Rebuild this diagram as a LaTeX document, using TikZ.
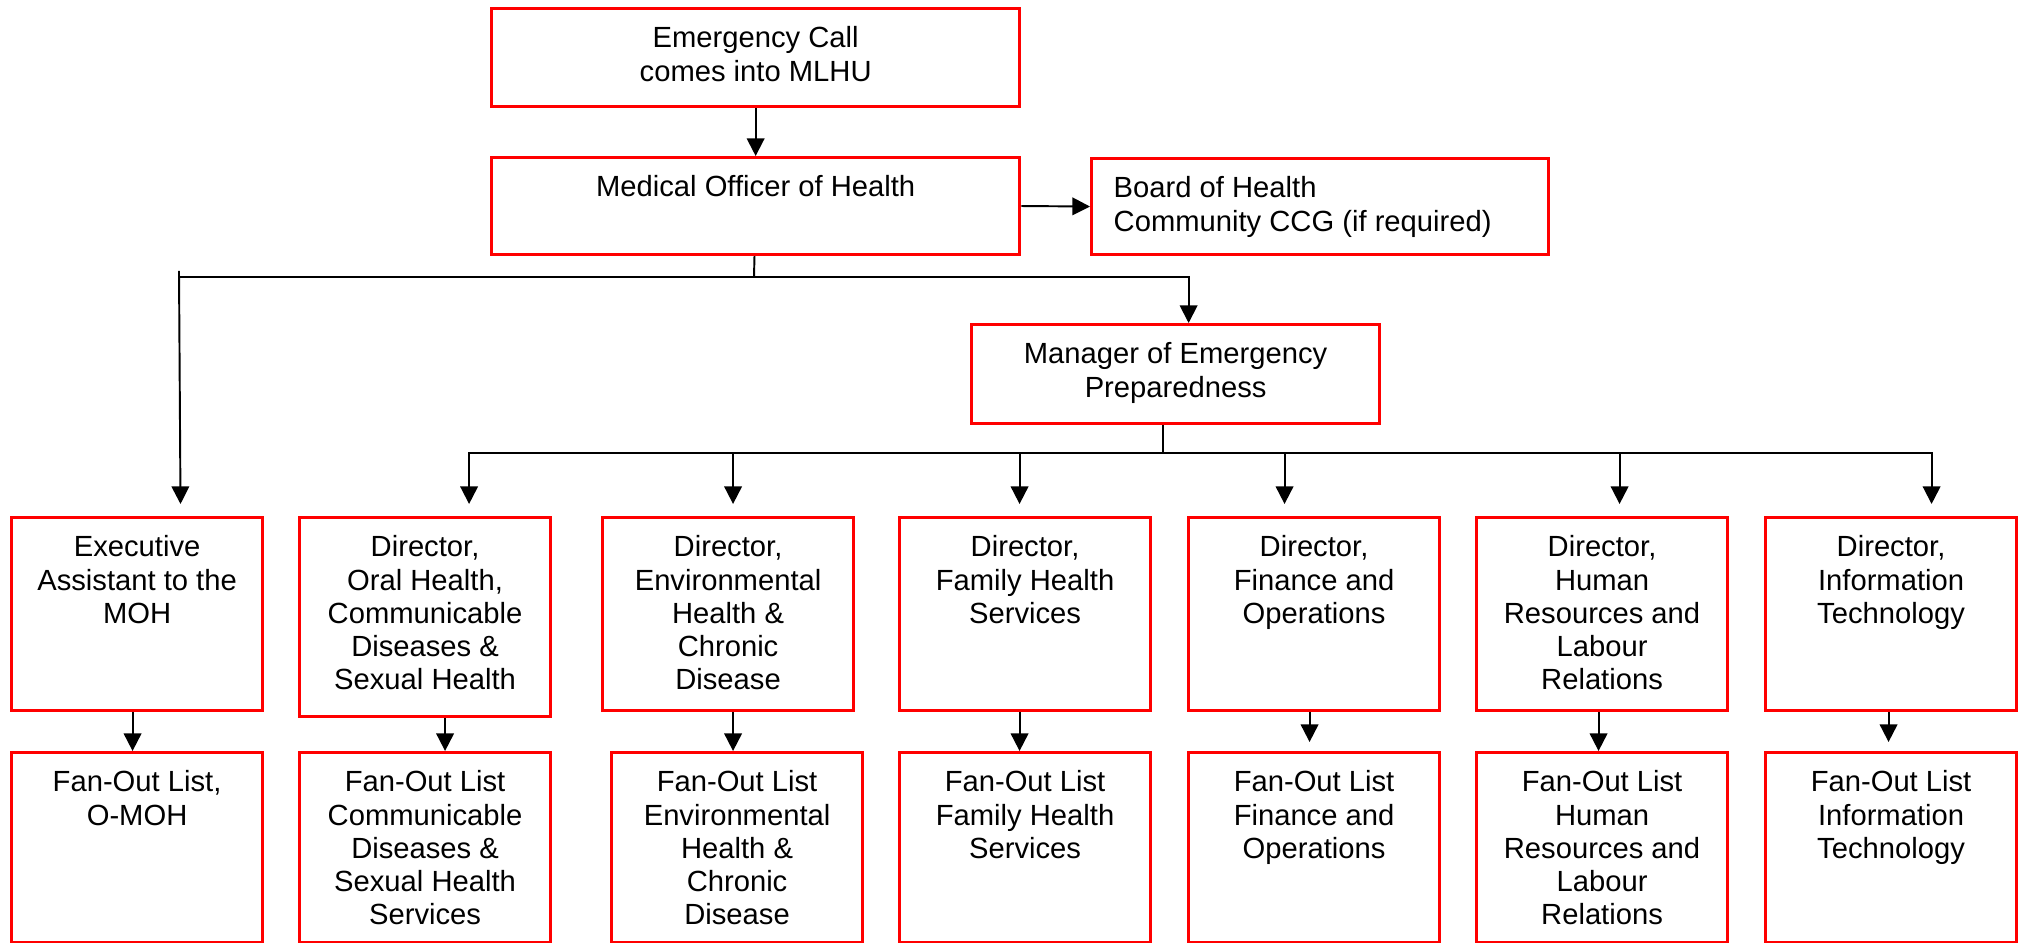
\documentclass[tikz,border=0pt]{standalone}
\usepackage{fontspec}
\setmainfont{Liberation Sans}
\usetikzlibrary{positioning,arrows.meta}

\tikzset{
	box/.style={draw=red, line width=0.85pt, minimum width=2.51cm, inner sep=0pt, anchor=north west},
	txt/.style={anchor=north, align=center, inner sep=0pt, yshift=-0.19cm,
		font=\fontsize{8.3}{9.45}\selectfont},
	link/.style={line width=0.55pt},
	arr/.style={link, -{Triangle[length=5pt,width=5pt]}},
}

\begin{document}
\begin{tikzpicture}[x=0.01cm, y=-0.01cm]
	\useasboundingbox (0,0) rectangle (2023,943);
	% top of the chart
	\node[box, minimum width=5.28cm, minimum height=0.98cm] (call) at (490,7) {};
	\node[txt] (call-t) at (call.north) {Emergency Call\\comes into MLHU};
	\node[box, minimum width=5.28cm, minimum height=0.97cm] (moh) at (490,156) {};
	\node[txt] (moh-t) at (moh.north) {Medical Officer of Health};
	\node[box, minimum width=4.57cm, minimum height=0.96cm] (board) at (1090,157) {};
	\node[txt, anchor=north west, align=left] (board-t) at ([xshift=0.23cm]board.north west) {Board of Health\\Community CCG (if required)};
	\node[box, minimum width=4.08cm, minimum height=0.99cm] (mgr) at (970,323) {};
	\node[txt] (mgr-t) at (mgr.north) {Manager of Emergency\\Preparedness};
	% directors
	\foreach \n/\x/\h/\t in {
		exec/10/1.93/{Executive\\Assistant to the\\MOH},
		oral/298/1.99/{Director,\\Oral Health,\\Communicable\\Diseases \&\\Sexual Health},
		env/601/1.93/{Director,\\Environmental\\Health \&\\Chronic\\Disease},
		family/898/1.93/{Director,\\Family Health\\Services},
		finance/1187/1.93/{Director,\\Finance and\\Operations},
		hr/1475/1.93/{Director,\\Human\\Resources and\\Labour\\Relations},
		it/1764/1.93/{Director,\\Information\\Technology}}
	{
		\node[box, minimum height=\h cm] (\n) at (\x,516) {};
		\node[txt] (\n-t) at (\n.north) {\t};
	}
	% fan-out lists
	\foreach \n/\x/\t in {
		omoh/10/{Fan-Out List,\\O-MOH},
		comm/298/{Fan-Out List\\Communicable\\Diseases \&\\Sexual Health\\Services},
		envfan/610/{Fan-Out List\\Environmental\\Health \&\\Chronic\\Disease},
		familyfan/898/{Fan-Out List\\Family Health\\Services},
		financefan/1187/{Fan-Out List\\Finance and\\Operations},
		hrfan/1475/{Fan-Out List\\Human\\Resources and\\Labour\\Relations},
		itfan/1764/{Fan-Out List\\Information\\Technology}}
	{
		\node[box, minimum height=1.9cm] (\n) at (\x,751) {};
		\node[txt] (\n-t) at (\n.north) {\t};
	}
	% connectors
	\draw[arr] (call) -- (moh);
	\draw[arr] (moh.east) -- (board.west);
	\coordinate (j1) at (754,277);
	\coordinate (tick) at (179,271);
	\draw[link] (moh) -- (j1);
	\draw[link] (tick |- j1) -- (j1);
	\draw[arr, shorten >=0.12cm] (tick) -- ([xshift=0.435cm]exec.north);
	\draw[arr] (j1) -| ([xshift=0.13cm]mgr.north);
	\coordinate (j2) at (1163,453);
	\draw[link] (j2 |- mgr.south) -- (j2);
	\foreach \n/\dx in {oral/0.44, env/0.05, family/-0.055, finance/-0.295, hr/0.175, it/0.405}
		\draw[arr, shorten >=0.12cm] (j2) -| ([xshift=\dx cm]\n.north);
	\foreach \a/\b/\dx/\gap in {exec/omoh/-0.045/0, oral/comm/0.2/0, env/envfan/0.05/0,
		family/familyfan/-0.055/0, finance/financefan/-0.045/0.09, hr/hrfan/-0.035/0, it/itfan/-0.025/0.09}
		\draw[arr, shorten >=\gap cm] ([xshift=\dx cm]\a.south) -- ([xshift=\dx cm]\a.south |- \b.north);
\end{tikzpicture}
\end{document}
